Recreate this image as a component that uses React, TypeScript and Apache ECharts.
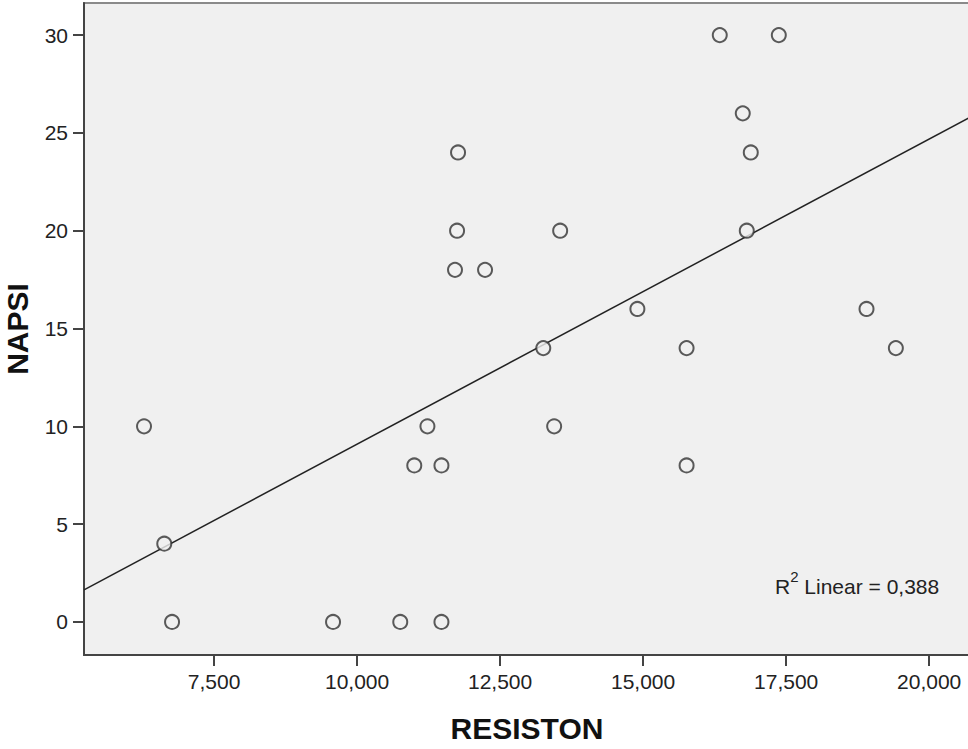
import React, { useEffect, useRef } from "react";
import * as echarts from "echarts";

const resiston: number[] = [
  6276, 6630, 6766, 9580, 10755, 11475, 11000, 11475, 11230, 11712, 12237, 11748, 11765,
  13255, 13445, 13550, 14900, 15760, 15760, 16340, 17372, 16742, 16882, 16812, 18905, 19418,
];
const napsi: number[] = [
  10, 4, 0, 0, 0, 0, 8, 8, 10, 18, 18, 20, 24,
  14, 10, 20, 16, 14, 8, 30, 30, 26, 24, 20, 16, 14,
];
const fitLine: number[][] = [
  [5227, 1.64],
  [20714, 25.8],
];
const xTicks: number[] = [7500, 10000, 12500, 15000, 17500, 20000];
const yTicks: number[] = [0, 5, 10, 15, 20, 25, 30];
const r2Label = "0,388";

export default function App() {
  const ref = useRef<HTMLDivElement>(null);
  useEffect(() => {
    if (!ref.current) return;
    const chart = echarts.init(ref.current, null, { renderer: "svg" });
    const font = "Liberation Sans, Arial, sans-serif";
    chart.setOption({
      animation: false,
      backgroundColor: "#ffffff",
      grid: {
        left: 84,
        top: 3,
        right: -2,
        bottom: 94,
        outerBoundsMode: "none",
        containLabel: false,
        show: true,
        backgroundColor: "#f0f0f0",
        borderColor: "#8a8a8a",
        borderWidth: 2,
      },
      xAxis: {
        type: "value",
        min: 5227,
        max: 20714,
        name: "RESISTON",
        nameLocation: "middle",
        nameGap: 58,
        nameTextStyle: { fontFamily: font, fontSize: 30, fontWeight: "bold", color: "#111" },
        axisLine: { show: true, onZero: false, lineStyle: { color: "#444", width: 2 } },
        axisTick: { show: true, customValues: xTicks, length: 11, lineStyle: { color: "#444", width: 2 } },
        axisLabel: {
          customValues: xTicks,
          fontFamily: font,
          fontSize: 21,
          color: "#222",
          margin: 16,
          formatter: (v: number) => v.toLocaleString("en-US"),
        },
        splitLine: { show: false },
      },
      yAxis: {
        type: "value",
        min: -1.69,
        max: 31.64,
        name: "NAPSI",
        nameLocation: "middle",
        nameGap: 52,
        nameRotate: 90,
        nameTextStyle: { fontFamily: font, fontSize: 30, fontWeight: "bold", color: "#111" },
        axisLine: { show: true, onZero: false, lineStyle: { color: "#444", width: 2 } },
        axisTick: { show: true, customValues: yTicks, length: 11, lineStyle: { color: "#444", width: 2 } },
        axisLabel: {
          customValues: yTicks,
          fontFamily: font,
          fontSize: 21,
          color: "#222",
          margin: 16,
        },
        splitLine: { show: false },
      },
      series: [
        {
          type: "line",
          data: fitLine,
          symbol: "none",
          lineStyle: { color: "#222", width: 1.5 },
          silent: true,
          z: 2,
        },
        {
          type: "scatter",
          data: resiston.map((x, i) => [x, napsi[i]]),
          symbol: "circle",
          symbolSize: 14,
          itemStyle: { color: "#f0f0f0", borderColor: "#333", borderWidth: 2 },
          z: 3,
        },
      ],
      graphic: [
        {
          type: "text",
          left: 775,
          top: 569,
          style: {
            text: "{r|R}{s|2}{r| Linear = " + r2Label + "}",
            rich: {
              r: { fontFamily: font, fontSize: 21, fill: "#222", verticalAlign: "bottom", lineHeight: 28 },
              s: { fontFamily: font, fontSize: 15, fill: "#222", verticalAlign: "top", lineHeight: 28 },
            },
          },
          z: 10,
        },
      ],
    });
    return () => chart.dispose();
  }, []);
  return (
    <div
      ref={ref}
      style={{ position: "fixed", left: 0, top: 0, width: 968, height: 749 }}
    />
  );
}
